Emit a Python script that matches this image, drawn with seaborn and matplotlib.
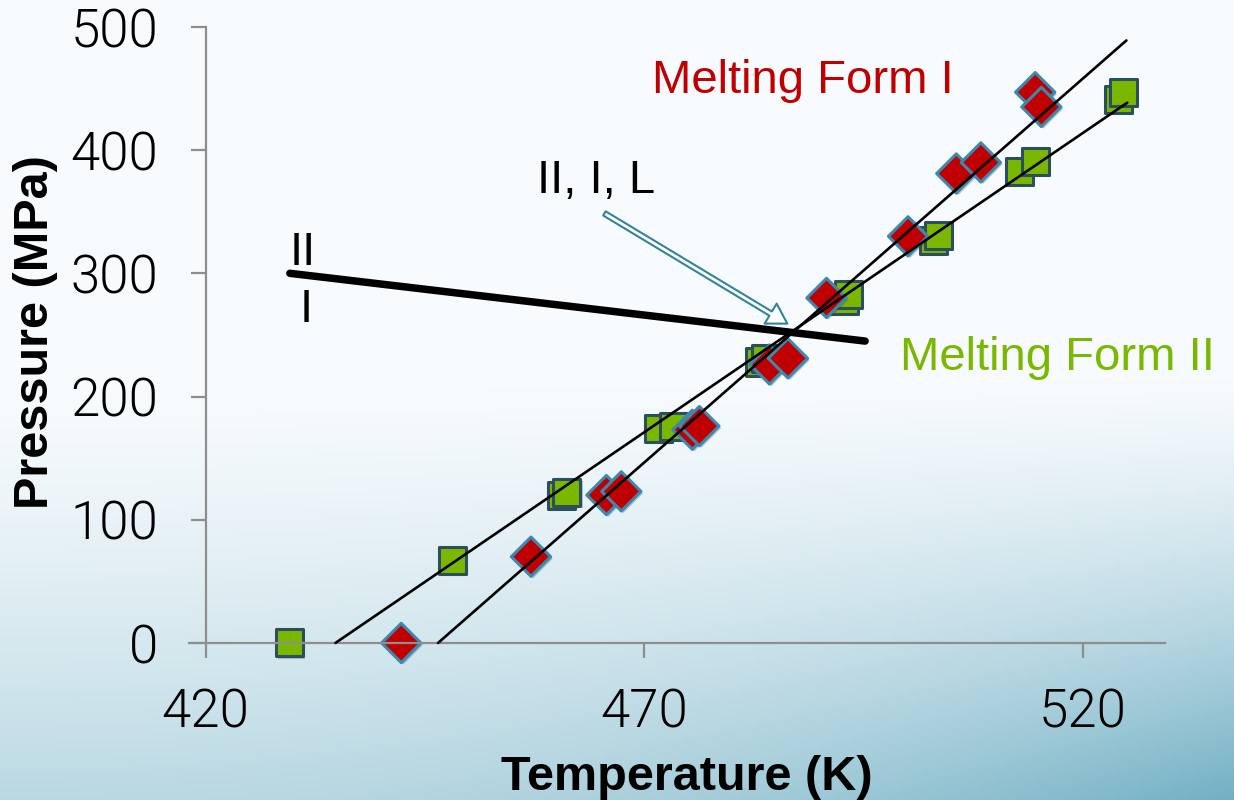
import numpy as np
import pandas as pd
import matplotlib
matplotlib.use("Agg")
import matplotlib.pyplot as plt
import matplotlib.patheffects as pe
import seaborn as sns
from matplotlib.patches import FancyArrowPatch

# ---- data ----
form1_T = [442.3, 457.1, 465.7, 467.4, 475.5, 476.3, 484.3, 486.4, 490.8, 500.1, 505.6, 508.4, 514.6, 515.3]
form1_P = [0, 70, 120, 123, 173, 176, 226, 231, 280, 330, 381, 390, 447, 435]
form2_T = [429.6, 448.1, 460.6, 461.2, 471.6, 473.3, 483.2, 483.8, 492.8, 493.3, 503.0, 503.6, 512.8, 514.6, 524.1, 524.7]
form2_P = [0, 67, 120, 122, 174, 176, 228, 231, 278, 283, 327, 331, 383, 391, 441, 447]
fit1_T = [446.5, 525.0]
fit1_P = [0, 489]
fit2_T = [434.8, 525.1]
fit2_P = [0, 438.5]
phase_T = [429.6, 495.2]
phase_P = [300, 245]
x_ticks = [420, 470, 520]
y_ticks = [0, 100, 200, 300, 400, 500]

RED = "#c00000"
GREEN = "#7ab800"

sns.set_theme(style="white")
plt.rcParams["font.family"] = ["Liberation Sans", "DejaVu Sans"]
plt.rcParams["text.color"] = "black"

fig = plt.figure(figsize=(12.34, 8.0), dpi=100)

# background gradient
bg = fig.add_axes([0, 0, 1, 1], zorder=-10)
H, W = 200, 300
yy, xx = np.mgrid[0:H, 0:W]
yf = yy / (H - 1)
xf = xx / (W - 1)
top = np.array([0.975, 0.988, 0.995])
bl = np.array([0.73, 0.85, 0.89])
br = np.array([0.45, 0.69, 0.77])
t = np.clip((yf - 0.45) / 0.55, 0, 1) ** 1.4
u = xf ** 2.2
bottom = bl[None, None, :] * (1 - u[..., None]) + br[None, None, :] * u[..., None]
img = top[None, None, :] * (1 - t[..., None]) + bottom * t[..., None]
bg.imshow(img, aspect="auto", extent=[0, 1, 0, 1], origin="upper")
bg.axis("off")

ax = fig.add_axes([189 / 1234, 0.1655, 976 / 1234, 0.8086])
ax.set_facecolor("none")

df1 = pd.DataFrame({"T": form1_T, "P": form1_P})
df2 = pd.DataFrame({"T": form2_T, "P": form2_P})

sns.lineplot(x=fit2_T, y=fit2_P, ax=ax, color="black", lw=1.9, zorder=3)
sns.lineplot(x=fit1_T, y=fit1_P, ax=ax, color="black", lw=1.9, zorder=3)

sns.scatterplot(data=df2, x="T", y="P", ax=ax, marker="s", s=380, color=GREEN,
                edgecolor="#2b4f5f", linewidth=2.2, zorder=2)
sns.scatterplot(data=df1, x="T", y="P", ax=ax, marker="D", s=400, color=RED,
                edgecolor="#3a8ab0", linewidth=2.2, zorder=2)
shadow = [pe.SimplePatchShadow(offset=(1.5, -1.5), shadow_rgbFace="#20303a", alpha=0.25), pe.Normal()]
for coll in ax.collections:
    coll.set_path_effects(shadow)

sns.lineplot(x=phase_T, y=phase_P, ax=ax, color="black", lw=5.4, zorder=4)

ax.set_xlim(418.1, 529.4)
ax.set_ylim(-20, 505)

for s in ["top", "right"]:
    ax.spines[s].set_visible(False)
ax.spines["bottom"].set_position(("data", 0))
ax.spines["left"].set_position(("data", 420))
ax.spines["left"].set_bounds(0, 500)
for s in ["bottom", "left"]:
    ax.spines[s].set_color("#8e8e8e")
    ax.spines[s].set_linewidth(1.6)

ax.set_xticks(x_ticks)
ax.set_yticks(y_ticks)
ax.tick_params(axis="both", direction="out", length=11, width=1.6, color="#8e8e8e",
               labelsize=38, labelcolor="black", bottom=True, left=True)
ax.tick_params(axis="x", pad=21)
ax.tick_params(axis="y", pad=23)
for lab in ax.get_xticklabels() + ax.get_yticklabels():
    lab.set_family(["Roboto", "DejaVu Sans"])
    lab.set_fontweight(300)

ax.set_xlabel("")
ax.set_ylabel("")
fig.text(687 / 1234, 1 - 790 / 800, "Temperature (K)", fontsize=35, fontweight="bold",
         ha="center", va="baseline", color="black")
fig.text(36 / 1234, 1 - 332 / 800, "Pressure (MPa)", fontsize=35, fontweight="bold",
         ha="center", va="center", rotation=90, color="black")

ax.text(470.9, 446.3, "Melting Form I", color=RED, fontsize=34, ha="left", va="baseline")
ax.text(499.2, 221.5, "Melting Form II", color=GREEN, fontsize=34, ha="left", va="baseline")
ax.text(457.8, 365.2, "II, I, L", color="black", fontsize=34, ha="left", va="baseline")
ax.text(429.6, 306.7, "II", color="black", fontsize=34, ha="left", va="baseline")
ax.text(430.7, 260.5, "I", color="black", fontsize=34, ha="left", va="baseline")

arrow = FancyArrowPatch((465.2, 349.8), (486.6, 258.0),
                        arrowstyle="simple,head_length=1.0,head_width=1.2,tail_width=0.25",
                        mutation_scale=14, fc="white", ec="#31849b", lw=1.5, zorder=5)
ax.add_patch(arrow)

fig.savefig("out.png", dpi=100)
